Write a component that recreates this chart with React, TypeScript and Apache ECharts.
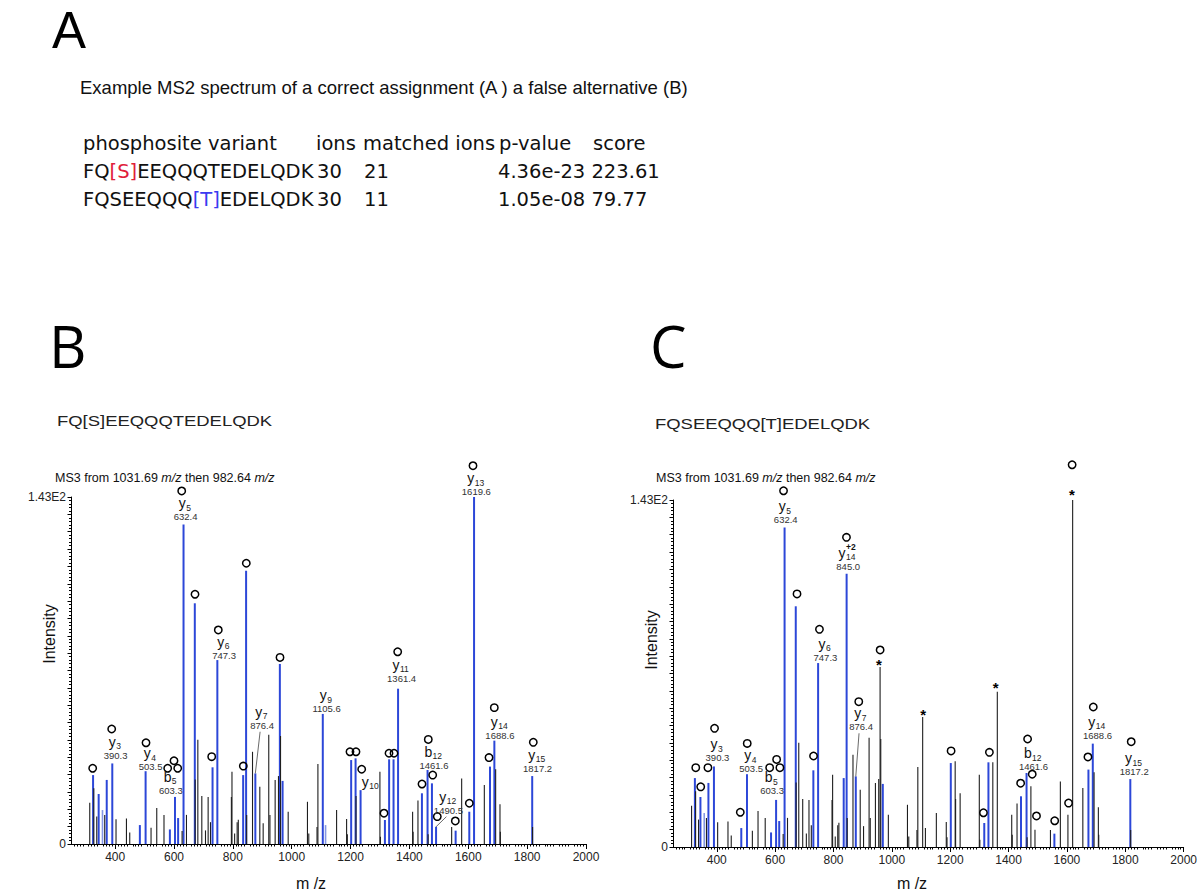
import React, { useEffect, useRef } from 'react';
import * as echarts from 'echarts';

// ---------- Panel A (table) ----------
const tableHeader = ['phosphosite variant', 'ions', 'matched ions', 'p-value', 'score'];
const variants = ['FQ[S]EEQQQTEDELQDK', 'FQSEEQQQ[T]EDELQDK'];
const ionCounts = ['30', '30'];
const matchedCounts = ['21', '11'];
const pValues = ['4.36e-23', '1.05e-08'];
const scores = ['223.61', '79.77'];

// ---------- Spectrum (shared peak list) ----------
const peakMz = [
  313.7, 325, 327.5, 337.5, 344, 357, 364.6, 371.4, 390.3, 403, 438.4, 449.6, 484, 503.5, 522, 541.4, 566, 586,
  603.3, 614, 627.5, 632.4, 642.4, 670.7, 672, 681, 694.5, 707, 716, 724, 731, 747.3, 795, 797, 806, 814.6, 818.5,
  835, 845, 847, 866.8, 876.4, 891.6, 903, 922, 926, 943.7, 955, 959.7, 962, 969, 988, 1053.5, 1058, 1086, 1089,
  1105.6, 1115, 1152.5, 1186.5, 1189, 1202, 1217, 1218.5, 1234, 1299.7, 1301.5, 1316.7, 1331, 1346, 1361.4,
  1410.8, 1412.5, 1429, 1442.5, 1461.6, 1463.5, 1476.5, 1490.5, 1543.5, 1557, 1577.5, 1603.4, 1619.6, 1654.5,
  1673.7, 1688.6, 1693, 1707.7, 1709, 1817.2, 1818.5,
];
const peakIntensity = [
  17, 28.4, 23, 11.3, 20.6, 14, 12, 26.4, 33.2, 10.2, 10.5, 4.7, 7.8, 30, 6.7, 14.8, 12, 6,
  19.4, 10.7, 5.4, 131.7, 12, 99.2, 26.6, 43, 19.8, 5.6, 19.4, 9, 31.6, 75.8, 19.4, 29.8, 4.3, 9, 10,
  28.4, 112.6, 12, 38, 29.1, 23.6, 8.6, 45, 12, 26.4, 28, 74.2, 44.5, 26, 13.3, 17.4, 4.3, 7, 33,
  53.6, 7.8, 14, 10.3, 4, 34.6, 35.3, 19.8, 22.2, 29.8, 3, 9.9, 34.9, 34.9, 64,
  13.3, 5, 17.9, 20.9, 30.5, 4, 25, 7.1, 7, 5.5, 27, 13.3, 143, 24.3,
  31.9, 42.6, 30.8, 16.4, 5, 28, 7,
];
// b = matched (blue), l = light blue, k = unmatched (black)
const peakColorB = [
  'k', 'b', 'k', 'k', 'b', 'l', 'k', 'b', 'b', 'k', 'k', 'k', 'b', 'b', 'k', 'k', 'k', 'b',
  'b', 'b', 'k', 'b', 'k', 'b', 'k', 'k', 'k', 'k', 'k', 'k', 'b', 'b', 'k', 'k', 'k', 'k', 'k',
  'b', 'b', 'k', 'k', 'b', 'k', 'k', 'k', 'k', 'k', 'k', 'b', 'k', 'b', 'k', 'k', 'k', 'k', 'k',
  'b', 'l', 'k', 'k', 'k', 'b', 'b', 'k', 'b', 'k', 'k', 'b', 'b', 'b', 'b',
  'k', 'k', 'k', 'b', 'b', 'k', 'b', 'b', 'k', 'b', 'k', 'b', 'b', 'k',
  'b', 'b', 'k', 'k', 'k', 'b', 'k',
];
const peakColorC = [
  'k', 'b', 'k', 'k', 'b', 'l', 'k', 'b', 'b', 'k', 'k', 'k', 'b', 'b', 'k', 'k', 'k', 'b',
  'b', 'b', 'k', 'b', 'k', 'b', 'k', 'k', 'k', 'k', 'k', 'k', 'b', 'b', 'k', 'k', 'k', 'k', 'k',
  'b', 'b', 'k', 'k', 'b', 'k', 'k', 'k', 'k', 'k', 'k', 'k', 'k', 'b', 'k', 'k', 'k', 'k', 'k',
  'k', 'k', 'k', 'k', 'k', 'b', 'k', 'k', 'k', 'k', 'k', 'b', 'b', 'k', 'k',
  'k', 'k', 'k', 'b', 'b', 'k', 'k', 'k', 'k', 'b', 'k', 'k', 'k', 'k',
  'b', 'b', 'k', 'k', 'k', 'b', 'k',
];

// ---------- Annotations panel B ----------
const circleMzB = [323.7, 388.3, 504.9, 578.6, 600, 612.6, 626.2, 671.4, 728.1, 750.5, 835.5, 845.7, 960.2, 1198, 1218.4,
  1237.8, 1313.6, 1330.6, 1347.6, 1360.1, 1442.7, 1464.1, 1479.1, 1494.7, 1555.9, 1603.5, 1616, 1670.4, 1688.4, 1820.9];
const circleLevelB = [31.2, 47.4, 41.7, 31.2, 34.3, 31.2, 145.5, 102.9, 36.0, 88.2, 32.1, 115.7, 76.9, 38.0, 38.0,
  30.8, 12.7, 37.4, 37.4, 79.2, 24.7, 43.1, 28.4, 11.3, 9.5, 16.8, 155.9, 35.6, 56.2, 41.9];
const labelIonB = ['y', 'y', 'b', 'y', 'y', 'y', 'y', 'y', 'y', 'b', 'y', 'y', 'y', 'y'];
const labelSubB = ['3', '4', '5', '5', '6', '7', '9', '10', '11', '12', '12', '13', '14', '15'];
const labelSupB = ['', '', '', '', '', '', '', '', '', '', '', '', '', ''];
const labelMassB = ['390.3', '503.5', '603.3', '632.4', '747.3', '876.4', '1105.6', '', '1361.4', '1461.6', '1490.5', '1619.6', '1688.6', '1817.2'];
const labelMzB = [398, 517, 586, 636, 767, 896, 1115, 1266, 1370, 1480, 1529, 1624, 1704, 1832];
const labelLevelB = [42.2, 37.5, 27.7, 140.5, 83.4, 54.5, 61.4, 25.7, 73.8, 38.0, 19.5, 150.7, 50.4, 36.7];
const labelLeaderB = [0, 0, 0, 0, 0, 876.4, 0, 0, 0, 0, 1490.5, 0, 0, 0];

// ---------- Annotations panel C ----------
const circleMzC = [328, 345, 369.7, 392.4, 480.6, 504.4, 581.3, 605.1, 616.3, 628.8, 675, 731.6, 751.9, 844.5, 886.6, 959.8,
  1203, 1313.9, 1334.3, 1441.4, 1465.2, 1481.1, 1495.7, 1558.1, 1605.6, 1617.8, 1672, 1690.3, 1820.3];
const circleLevelC = [32.7, 24.8, 32.7, 48.9, 14.3, 42.7, 32.7, 36.1, 32.7, 146.8, 104.3, 37.5, 89.7, 127.6, 59.9, 81.2,
  39.6, 14.1, 39.0, 26.3, 44.5, 30.0, 12.8, 10.8, 18.1, 157.5, 37.1, 57.7, 43.4];
const labelIonC = ['y', 'y', 'b', 'y', 'y', 'y', 'y', 'b', 'y', 'y'];
const labelSubC = ['3', '4', '5', '5', '6', '14', '7', '12', '14', '15'];
const labelSupC = ['', '', '', '', '', '+2', '', '', '', ''];
const labelMassC = ['390.3', '503.5', '603.3', '632.4', '747.3', '845.0', '876.4', '1461.6', '1688.6', '1817.2'];
const labelMzC = [399, 514.5, 586, 633, 769, 847, 891, 1482, 1701.5, 1827];
const labelLevelC = [42.4, 37.9, 28.7, 140.5, 83.7, 121.3, 55.1, 38.6, 51.6, 36.6];
const labelLeaderC = [0, 0, 0, 0, 0, 0, 876.4, 0, 0, 0];
const starMzC = [956, 1107, 1356, 1617];
const starLevelC = [76.4, 55.8, 66.8, 146.4];

// ---------- Axes ----------
const xTickValues = [400, 600, 800, 1000, 1200, 1400, 1600, 1800, 2000];
const yTickValues = [0, 143];
const yTickTexts = ['0', '1.43E2'];

const BLUE = '#2c47d8';
const LIGHT = '#8597e4';
const BLACK = '#1e1e1e';
const SANS = '"Liberation Sans", Arial, sans-serif';

function peakSeries(g: number, codes: string[], code: string, color: string, width: number) {
  const data = peakMz.map((m, i) => [m, peakIntensity[i]]).filter((_, i) => codes[i] === code);
  return {
    type: 'custom', xAxisIndex: g, yAxisIndex: g, data, clip: false, silent: true,
    renderItem: (_p: any, api: any) => {
      const a = api.coord([api.value(0), 0]);
      const b = api.coord([api.value(0), api.value(1)]);
      return { type: 'line', shape: { x1: a[0], y1: a[1], x2: b[0], y2: b[1] }, style: { stroke: color, lineWidth: width } };
    },
  };
}

function circleSeries(g: number, mz: number[], lv: number[]) {
  return {
    type: 'custom', xAxisIndex: g, yAxisIndex: g, clip: false, silent: true,
    data: mz.map((m, i) => [m, lv[i]]),
    renderItem: (_p: any, api: any) => {
      const c = api.coord([api.value(0), api.value(1)]);
      return { type: 'circle', shape: { cx: c[0], cy: c[1], r: 3.7 }, style: { fill: 'none', stroke: '#000', lineWidth: 1.5 } };
    },
  };
}

function starSeries(g: number, mz: number[], lv: number[]) {
  return {
    type: 'custom', xAxisIndex: g, yAxisIndex: g, clip: false, silent: true,
    data: mz.map((m, i) => [m, lv[i]]),
    renderItem: (_p: any, api: any) => {
      const c = api.coord([api.value(0), api.value(1)]);
      return { type: 'text', x: c[0], y: c[1] + 3, style: { text: '*', fontSize: 15, fontWeight: 'bold', fontFamily: SANS, fill: '#000', align: 'center', verticalAlign: 'middle' } };
    },
  };
}

function labelSeries(g: number, ion: string[], sub: string[], sup: string[], mass: string[], mz: number[], lv: number[], leader: number[]) {
  return {
    type: 'custom', xAxisIndex: g, yAxisIndex: g, clip: false, silent: true,
    data: mz.map((m, i) => [m, lv[i]]),
    renderItem: (params: any, api: any) => {
      const i = params.dataIndex;
      const c = api.coord([api.value(0), api.value(1)]);
      const ionW = ion[i] === 'b' ? 7.8 : 7.2;
      const subW = sub[i].length * 4.6;
      const supW = sup[i].length * 5;
      const total = ionW + Math.max(subW, supW);
      const left = c[0] - total / 2;
      const children: any[] = [
        { type: 'text', x: left, y: c[1], style: { text: ion[i], fontSize: 14, fontFamily: SANS, fill: '#111', align: 'left', verticalAlign: 'middle' } },
        { type: 'text', x: left + ionW + 0.3, y: c[1] + 4.5, style: { text: sub[i], fontSize: 8.5, fontFamily: SANS, fill: '#222', align: 'left', verticalAlign: 'middle' } },
      ];
      if (sup[i]) {
        children.push({ type: 'text', x: left + ionW + 0.3, y: c[1] - 6, style: { text: sup[i], fontSize: 8.5, fontWeight: 'bold', fontFamily: SANS, fill: '#111', align: 'left', verticalAlign: 'middle' } });
      }
      if (mass[i]) {
        children.push({ type: 'text', x: c[0] + 1, y: c[1] + 13.5, style: { text: mass[i], fontSize: 9.5, fontFamily: SANS, fill: '#333', align: 'center', verticalAlign: 'middle' } });
      }
      if (leader[i]) {
        const k = peakMz.indexOf(leader[i]);
        const t = api.coord([leader[i], peakIntensity[k]]);
        children.push({ type: 'line', shape: { x1: c[0] - 1, y1: c[1] + 20, x2: t[0], y2: t[1] }, style: { stroke: '#444', lineWidth: 0.8 } });
      }
      return { type: 'group', children };
    },
  };
}

function xAxisCfg(g: number) {
  return {
    type: 'value', gridIndex: g, min: 250, max: 2000, interval: 50,
    axisLine: { lineStyle: { color: '#000', width: 1 } },
    axisTick: { show: true, customValues: xTickValues, length: 5, lineStyle: { color: '#000' } },
    minorTick: { show: true, splitNumber: 5, length: 2.5, lineStyle: { color: '#000' } },
    axisLabel: {
      customValues: xTickValues, fontSize: 12, fontFamily: SANS, color: '#222', margin: 7,
      formatter: (v: number) => String(v),
    },
    splitLine: { show: false },
  };
}

function yAxisCfg(g: number) {
  return {
    type: 'value', gridIndex: g, min: 0, max: 143, interval: 7.15,
    axisLine: { show: true, lineStyle: { color: '#000', width: 1 } },
    axisTick: { show: true, length: 3.5, lineStyle: { color: '#000' } },
    minorTick: { show: true, splitNumber: 5, length: 2, lineStyle: { color: '#000' } },
    axisLabel: {
      customValues: yTickValues, fontSize: 12, fontFamily: SANS, color: '#222', margin: 5,
      formatter: (v: number) => yTickTexts[yTickValues.indexOf(v)] ?? '',
    },
    splitLine: { show: false },
  };
}

function variantRich(s: string, tag: string) {
  return s.replace(/\[(.)\]/, `{${tag}|[$1]}`);
}

function txt(text: string, x: number, y: number, extra: any = {}, el: any = {}) {
  return {
    type: 'text', x, y, silent: true, ...el,
    style: { text, fontFamily: SANS, fontSize: 12, fill: '#111', align: 'left', verticalAlign: 'middle', ...extra },
  };
}

export default function App() {
  const ref = useRef<HTMLDivElement>(null);
  useEffect(() => {
    const chart = echarts.init(ref.current!, undefined, { renderer: 'svg' });
    const TF = '"DejaVu Sans", Verdana, sans-serif';
    const tableFont = { fontFamily: TF, fontSize: 19.5, fill: '#111' };
    const headerX = [83, 316, 363, 499, 593];
    const rowX = [83, 317, 364, 498];
    const rowY = [171, 199];
    const graphics: any[] = [
      txt('A', 52, 30, { fontFamily: SANS, fontSize: 51, fill: '#000' }),
      txt('B', 49, 345, { fontFamily: '"Open Sans", sans-serif', fontSize: 58, fill: '#000' }),
      txt('C', 650, 345, { fontFamily: '"Open Sans", sans-serif', fontSize: 58, fill: '#000' }),
      txt('Example MS2 spectrum of a correct assignment (A ) a false alternative (B)', 80, 87, { fontSize: 18.5, fill: '#111' }),
      ...tableHeader.map((h, i) => txt(h, headerX[i], 143, tableFont)),
    ];
    rowY.forEach((y, r) => {
      graphics.push(txt(variantRich(variants[r], r === 0 ? 'red' : 'blue'), rowX[0], y, {
        ...tableFont,
        rich: {
          red: { fill: '#e0203a', fontFamily: TF, fontSize: 19.5 },
          blue: { fill: '#3b3bf0', fontFamily: TF, fontSize: 19.5 },
        },
      }));
      graphics.push(txt(ionCounts[r], rowX[1], y, tableFont));
      graphics.push(txt(matchedCounts[r], rowX[2], y, tableFont));
      graphics.push(txt(pValues[r] + ' ' + scores[r], rowX[3], y, tableFont));
    });
    const msRich = { it: { fontStyle: 'italic', fontSize: 12.5, fontFamily: SANS, fill: '#111' } };
    graphics.push(
      txt('FQ[S]EEQQQTEDELQDK', 57, 421, { fontSize: 15, fill: '#222' }, { scaleX: 1.23 }),
      txt('FQSEEQQQ[T]EDELQDK', 655, 424, { fontSize: 15, fill: '#222' }, { scaleX: 1.23 }),
      txt('MS3 from 1031.69 {it|m/z} then 982.64 {it|m/z}', 55, 478, { fontSize: 12.5, rich: msRich }),
      txt('MS3 from 1031.69 {it|m/z} then 982.64 {it|m/z}', 656, 478, { fontSize: 12.5, rich: msRich }),
      txt('Intensity', 49, 634, { fontSize: 16, align: 'center' }, { rotation: Math.PI / 2 }),
      txt('Intensity', 651, 640, { fontSize: 16, align: 'center' }, { rotation: Math.PI / 2 }),
      txt('m /z', 311, 883, { fontSize: 16, align: 'center' }),
      txt('m /z', 912, 883, { fontSize: 16, align: 'center' }),
    );

    chart.setOption({
      animation: false,
      backgroundColor: '#fff',
      grid: [
        { left: 71, top: 497, width: 515, height: 347 },
        { left: 673, top: 500, width: 516, height: 347 },
      ],
      xAxis: [xAxisCfg(0), xAxisCfg(1)],
      yAxis: [yAxisCfg(0), yAxisCfg(1)],
      series: [
        peakSeries(0, peakColorB, 'b', BLUE, 2),
        peakSeries(0, peakColorB, 'l', LIGHT, 1.6),
        peakSeries(0, peakColorB, 'k', BLACK, 1.1),
        peakSeries(1, peakColorC, 'b', BLUE, 2),
        peakSeries(1, peakColorC, 'l', LIGHT, 1.6),
        peakSeries(1, peakColorC, 'k', BLACK, 1.1),
        circleSeries(0, circleMzB, circleLevelB),
        circleSeries(1, circleMzC, circleLevelC),
        labelSeries(0, labelIonB, labelSubB, labelSupB, labelMassB, labelMzB, labelLevelB, labelLeaderB),
        labelSeries(1, labelIonC, labelSubC, labelSupC, labelMassC, labelMzC, labelLevelC, labelLeaderC),
        starSeries(1, starMzC, starLevelC),
      ],
      graphic: graphics,
    });
    return () => chart.dispose();
  }, []);
  return <div ref={ref} style={{ position: 'absolute', left: 0, top: 0, width: 1200, height: 893 }} />;
}
